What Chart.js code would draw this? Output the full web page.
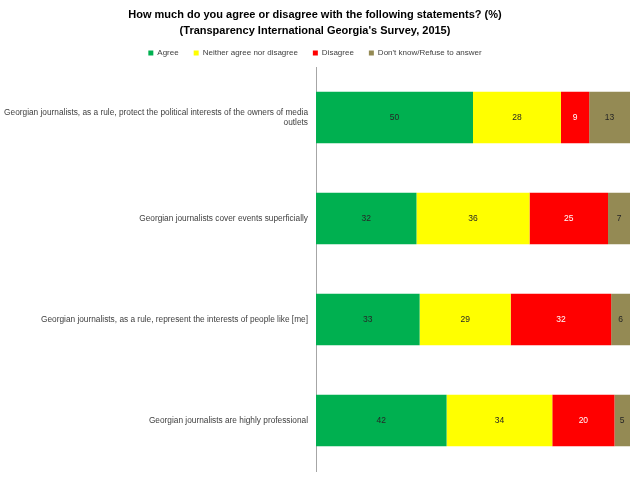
<!DOCTYPE html>
<html>
<head>
<meta charset="utf-8">
<script src="https://cdn.jsdelivr.net/npm/chart.js@4"></script>
<style>
  html, body { margin: 0; padding: 0; background: #fff; }
  #wrap { width: 640px; height: 480px; }
</style>
</head>
<body>
<div id="wrap"><canvas id="myChart" width="640" height="480"></canvas></div>
<script>
// statements (y categories)
const statements = [
    ['Georgian journalists, as a rule, protect the political interests of the owners of media', 'outlets'],
    'Georgian journalists cover events superficially',
    'Georgian journalists, as a rule, represent the interests of people like [me]',
    'Georgian journalists are highly professional'
]

// answers in %
const agree = [50, 32, 33, 42]
const neither = [28, 36, 29, 34]
const disagree = [9, 25, 32, 20]
const dontKnow = [13, 7, 6, 5]

const seriesNames = ['Agree', 'Neither agree nor disagree', 'Disagree', "Don't know/Refuse to answer"]
const seriesColors = ['#00b050', '#ffff00', '#ff0000', '#948a54']
const labelColors = ['#262626', '#262626', '#ffffff', '#262626']

const allSeries = [agree, neither, disagree, dontKnow]

// 100% stacked: each bar is scaled to its row total
const totals = statements.map((s, i) => allSeries.reduce((sum, arr) => sum + arr[i], 0))

const datasets = allSeries.map((arr, k) => ({
    label: seriesNames[k],
    data: arr.map((v, i) => v / totals[i] * 100),
    raw: arr,
    backgroundColor: seriesColors[k],
    borderWidth: 0,
    barPercentage: 0.51,
    categoryPercentage: 1
}))

// draws the value in the middle of every bar segment
const valueLabels = {
    id: 'valueLabels',
    afterDatasetsDraw(chart) {
        const c = chart.ctx
        c.save()
        c.font = '8.5px "Liberation Sans", Arial, sans-serif'
        c.textAlign = 'center'
        c.textBaseline = 'middle'
        chart.data.datasets.forEach((ds, k) => {
            chart.getDatasetMeta(k).data.forEach((bar, i) => {
                c.fillStyle = labelColors[k]
                c.fillText(ds.raw[i], (bar.x + bar.base) / 2, bar.y)
            })
        })
        c.restore()
    }
}

const ctx = document.getElementById('myChart')

const myChart = new Chart(ctx, {
    type: 'bar',
    data: {
        labels: statements,
        datasets: datasets
    },
    options: {
        indexAxis: 'y',
        responsive: false,
        animation: false,
        devicePixelRatio: 1,
        layout: {
            padding: { left: 0, right: 10, top: 0, bottom: 9 }
        },
        scales: {
            x: {
                stacked: true,
                min: 0,
                max: 100,
                display: false
            },
            y: {
                stacked: true,
                grid: { display: false, drawTicks: false, tickLength: 0 },
                border: { display: true, color: '#a6a6a6', width: 1 },
                ticks: {
                    color: '#404040',
                    padding: 8,
                    font: { family: '"Liberation Sans", Arial, sans-serif', size: 8.3 }
                },
                afterFit(scale) {
                    scale.width = 316
                    // labels sit in the middle of the bands, no extra room needed
                    scale.paddingTop = 0
                    scale.paddingBottom = 0
                }
            }
        },
        plugins: {
            title: {
                display: true,
                text: ['How much do you agree or disagree with the following statements? (%)',
                       "(Transparency International Georgia's Survey, 2015)"],
                color: '#000000',
                font: { family: '"Liberation Sans", Arial, sans-serif', size: 11, weight: 'bold', lineHeight: '16px' },
                padding: { top: 7, bottom: -5 }
            },
            legend: {
                display: true,
                position: 'top',
                labels: {
                    color: '#404040',
                    boxWidth: 5,
                    boxHeight: 5,
                    padding: 15,
                    font: { family: '"Liberation Sans", Arial, sans-serif', size: 8 }
                }
            },
            tooltip: { enabled: false }
        }
    },
    plugins: [valueLabels]
})
</script>
</body>
</html>
